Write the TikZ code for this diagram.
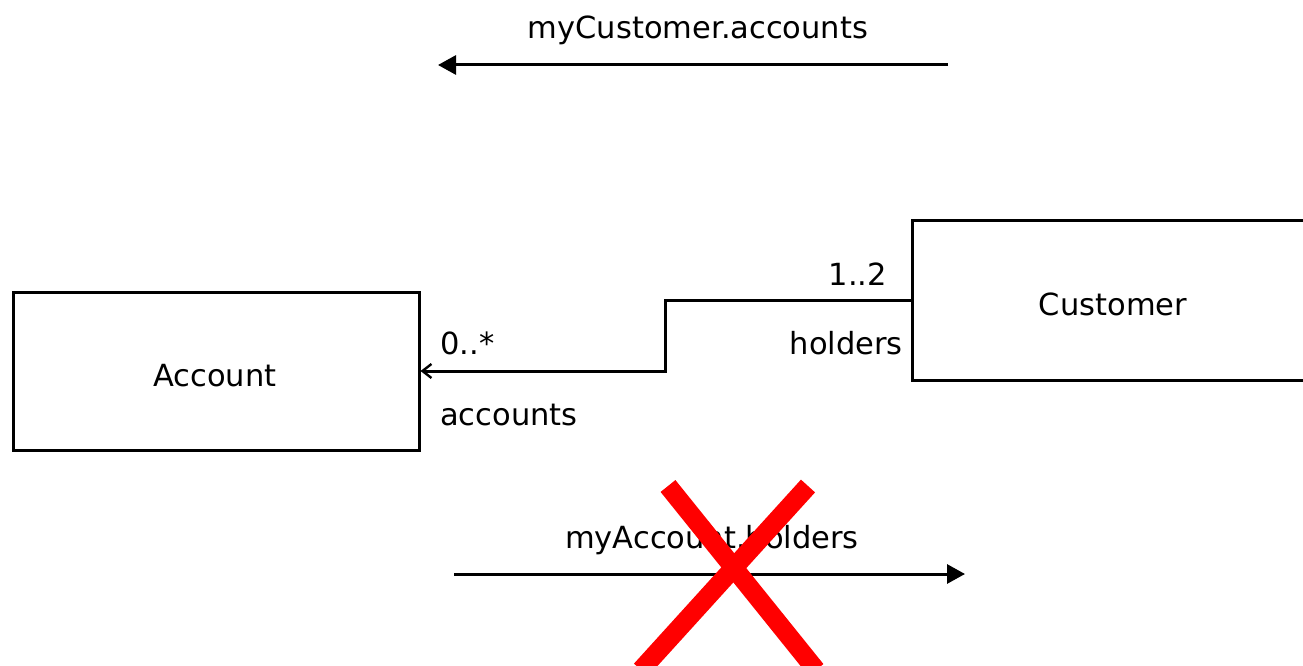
\documentclass[tikz,border=0pt]{standalone}
\usepackage{fontspec}
\setmainfont{DejaVu Sans}
\usetikzlibrary{arrows.meta}
\begin{document}
\begin{tikzpicture}[x=1pt,y=-1pt,
  every node/.style={font=\fontsize{30.5}{36}\selectfont, inner sep=0pt},
  classbox/.style={draw, line width=3pt, rectangle},
  assoc/.style={line width=3pt, -{Straight Barb[length=9,width=14,line width=2.4pt]}},
  navarrow/.style={line width=3pt, -{Triangle[length=18,width=19]}},
  lbl/.style={anchor=base},
  crossout/.style={draw=red, line width=19pt}]
\useasboundingbox (0,0) rectangle (1303,666);
\clip (0,0) rectangle (1303,666);

% classes
\node[classbox, minimum width=406pt, minimum height=158pt] (acc) at (216,371) {};
\node[lbl] (acctext) at (215,386) {Account};
\node[classbox, minimum width=402pt, minimum height=160pt] (cust) at (1113,300) {};
\node[lbl] (custtext) at (1113,315) {Customer};

% association with a bend
\coordinate (bend) at (665,300);
\draw[assoc] (cust.west) -- (bend) |- (acc.east);

% role names and multiplicities
\node[lbl, anchor=base east] (m12) at (887,285) {1..2};
\node[lbl, anchor=base east] (rholders) at (903,354) {holders};
\node[lbl, anchor=base west] (m0n) at (440,354) {0..*};
\node[lbl, anchor=base west] (raccounts) at (440,425) {accounts};

% navigation from customer to accounts
\coordinate (t1) at (948,65);
\coordinate (t2) at (438,65);
\draw[navarrow] (t1) -- (t2);
\node[lbl] (navtop) at (698,39) {myCustomer.accounts};

% navigation from account to holders
\coordinate (b1) at (454,574);
\coordinate (b2) at (965,574);
\draw[navarrow] (b1) -- (b2);
\node[lbl] (navbot) at (712,548) {myAccount.holders};

% red cross over the forbidden navigation
\coordinate (x1) at (668,486);
\coordinate (x2) at (816,670);
\coordinate (x3) at (808,486);
\coordinate (x4) at (641,670);
\draw[crossout] (x1) -- (x2);
\draw[crossout] (x3) -- (x4);
\end{tikzpicture}
\end{document}
